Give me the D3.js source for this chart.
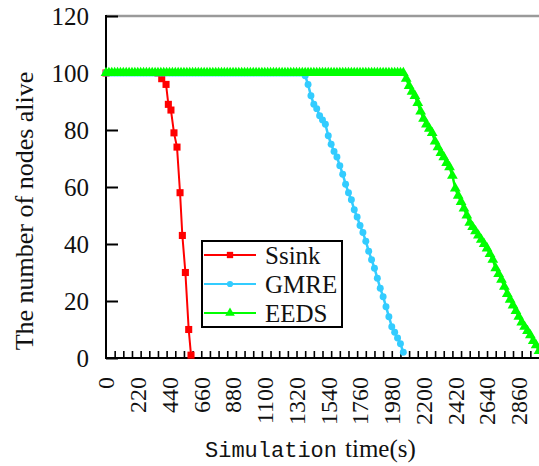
<!DOCTYPE html>
<head>
  <meta charset="utf-8">
  <script src="https://d3js.org/d3.v7.min.js"></script>
  <style>
    body { margin:0; background:white; }
    .tick-label { font-family: 'Liberation Serif', serif; font-size: 25px; fill: #111; }
    .legend-text { font-family: 'Liberation Serif', serif; font-size: 25px; fill: #111; }
  </style>
</head>
<body>
<script>
  // Ssink: irregular sample times
  const ssinkTime  = [0, 360, 386, 416, 432, 450, 471, 492, 513, 529, 550, 573, 589];
  const ssinkAlive = [100, 100, 98, 96, 89, 87, 79, 74, 58, 43, 30, 10, 1];

  // GMRE and EEDS sampled every 20 s from t = 0
  const sampleStep = 20;
  const gmreAlive = [
    100,100,100,100,100,100,100,100,100,100,
    100,100,100,100,100,100,100,100,100,100,
    100,100,100,100,100,100,100,100,100,100,
    100,100,100,100,100,100,100,100,100,100,
    100,100,100,100,100,100,100,100,100,100,
    100,100,100,100,100,100,100,100,100,100,
    100,100,100,100,100,100,100,100,100,
    99, 96, 92, 89, 87.5, 85, 83.5, 82, 78, 75,
    72.5, 70.5, 67.5, 64.5, 61, 58, 55.5, 52, 49.5, 46.5,
    44, 41, 37.5, 34.5, 31.5, 28, 24.5, 21.5, 18, 14.5,
    11, 9, 7, 5, 2
  ];
  const eedsAlive = [
    100,100,100,100,100,100,100,100,100,100,
    100,100,100,100,100,100,100,100,100,100,
    100,100,100,100,100,100,100,100,100,100,
    100,100,100,100,100,100,100,100,100,100,
    100,100,100,100,100,100,100,100,100,100,
    100,100,100,100,100,100,100,100,100,100,
    100,100,100,100,100,100,100,100,100,100,
    100,100,100,100,100,100,100,100,100,100,
    100,100,100,100,100,100,100,100,100,100,
    100,100,100,100,100,100,100,100,100,100,
    100,100,100,100,
    98, 95.5, 93.5, 92, 89.5, 86.5, 84, 82, 80.5, 79,
    76, 74, 72, 70.5, 68.5, 67, 64, 59.5, 57, 54.8,
    52.5, 50, 47.5, 46, 44.5, 43, 41.5, 40, 38.5, 36.5,
    34.5, 31.5, 29.5, 27.5, 25, 22.5, 20.5, 18.5, 16.5, 14.5,
    12.5, 11, 9.5, 8, 6, 4.5, 2.5
  ];

  const xTickLabels = [0, 220, 440, 660, 880, 1100, 1320, 1540, 1760, 1980, 2200, 2420, 2640, 2860];
  const yTickLabels = [0, 20, 40, 60, 80, 100, 120];
  const seriesNames = ['Ssink', 'GMRE', 'EEDS'];

  const W = 539, H = 466;
  const svg = d3.select('body').append('svg').attr('width', W).attr('height', H);

  const x = d3.scaleLinear().domain([0, 3000]).range([106, 539]);
  const y = d3.scaleLinear().domain([0, 120]).range([358, 16]);

  // top border
  svg.append('line')
    .attr('x1', x(0)).attr('x2', W).attr('y1', y(120)).attr('y2', y(120))
    .attr('stroke', '#9a9a9a').attr('stroke-width', 2.5);

  // minor ticks on x axis, every 60 s, pointing inside
  const xAxis = d3.axisBottom(x).tickValues(d3.range(60, 3000, 60)).tickSize(-7).tickFormat('');
  const gx = svg.append('g').attr('transform', `translate(0,${y(0)})`).call(xAxis);
  gx.select('.domain').remove();
  gx.selectAll('.tick line').attr('stroke', '#000').attr('stroke-width', 1.6);
  svg.append('line')
    .attr('x1', x(0) - 1).attr('x2', W).attr('y1', y(0)).attr('y2', y(0))
    .attr('stroke', '#000').attr('stroke-width', 2);

  // y axis, ticks inside
  const yAxis = d3.axisLeft(y).tickValues(yTickLabels).tickSize(-12).tickFormat('');
  const gy = svg.append('g').attr('transform', `translate(${x(0)},0)`).call(yAxis);
  gy.select('.domain').remove();
  gy.selectAll('.tick line').attr('stroke', '#000').attr('stroke-width', 2);
  svg.append('line')
    .attr('x1', x(0)).attr('x2', x(0)).attr('y1', y(120) - 1).attr('y2', y(0) + 1)
    .attr('stroke', '#000').attr('stroke-width', 2);

  // y labels
  svg.append('g').selectAll('text')
    .data(yTickLabels).join('text')
    .attr('class', 'tick-label')
    .attr('x', 89).attr('y', d => y(d)).attr('dy', '0.36em')
    .attr('text-anchor', 'end')
    .text(d => d);

  // x labels, rotated
  svg.append('g').selectAll('text')
    .data(xTickLabels).join('text')
    .attr('class', 'tick-label')
    .style('font-size', '24px')
    .attr('transform', d => `translate(${x(d)},377) rotate(-90)`)
    .attr('dy', '0.35em')
    .attr('text-anchor', 'end')
    .text(d => d);

  // axis titles
  svg.append('text')
    .attr('transform', 'translate(33,211) rotate(-90)')
    .attr('text-anchor', 'middle')
    .style('font-family', "'Liberation Serif', serif")
    .style('font-size', '26px')
    .attr('fill', '#111')
    .text('The number of nodes alive');

  const xt = svg.append('text').attr('y', 457).attr('fill', '#111');
  xt.append('tspan').attr('x', 205)
    .style('font-family', "'Liberation Mono', monospace").style('font-size', '22px')
    .text('Simulation');
  xt.append('tspan').attr('x', 345)
    .style('font-family', "'Liberation Serif', serif").style('font-size', '25px')
    .text('time(s)');

  // series
  const series = [
    { name: seriesNames[0], color: '#ff0000', symbol: d3.symbolSquare, size: 50, width: 2,
      points: ssinkTime.map((t, i) => [t, ssinkAlive[i]]) },
    { name: seriesNames[1], color: '#33ccff', symbol: d3.symbolCircle, size: 38, width: 2.5,
      points: gmreAlive.map((v, i) => [i * sampleStep, v]) },
    { name: seriesNames[2], color: '#00ff00', symbol: d3.symbolTriangle, size: 50, width: 2.5,
      points: eedsAlive.map((v, i) => [i * sampleStep, v]) }
  ];

  const line = d3.line().x(d => x(d[0])).y(d => y(d[1]));

  series.forEach(s => {
    const g = svg.append('g');
    g.append('path')
      .attr('d', line(s.points))
      .attr('fill', 'none')
      .attr('stroke', s.color)
      .attr('stroke-width', s.width);
    g.selectAll('path.mk')
      .data(s.points).join('path')
      .attr('class', 'mk')
      .attr('d', d3.symbol().type(s.symbol).size(s.size))
      .attr('transform', d => `translate(${x(d[0])},${y(d[1])})`)
      .attr('fill', s.color);
  });

  // legend
  const lg = svg.append('g');
  lg.append('rect')
    .attr('x', 202).attr('y', 241).attr('width', 140).attr('height', 86)
    .attr('fill', 'white').attr('stroke', '#000').attr('stroke-width', 2);
  const rowY = [255, 284, 313];
  series.forEach((s, i) => {
    lg.append('line')
      .attr('x1', 204).attr('x2', 256).attr('y1', rowY[i]).attr('y2', rowY[i])
      .attr('stroke', s.color).attr('stroke-width', 2);
    lg.append('path')
      .attr('d', d3.symbol().type(s.symbol).size(s.size * 0.8))
      .attr('transform', `translate(230,${rowY[i]})`)
      .attr('fill', s.color);
    lg.append('text')
      .attr('class', 'legend-text')
      .attr('x', 265).attr('y', rowY[i]).attr('dy', '0.35em')
      .text(s.name);
  });
</script>
</body>
